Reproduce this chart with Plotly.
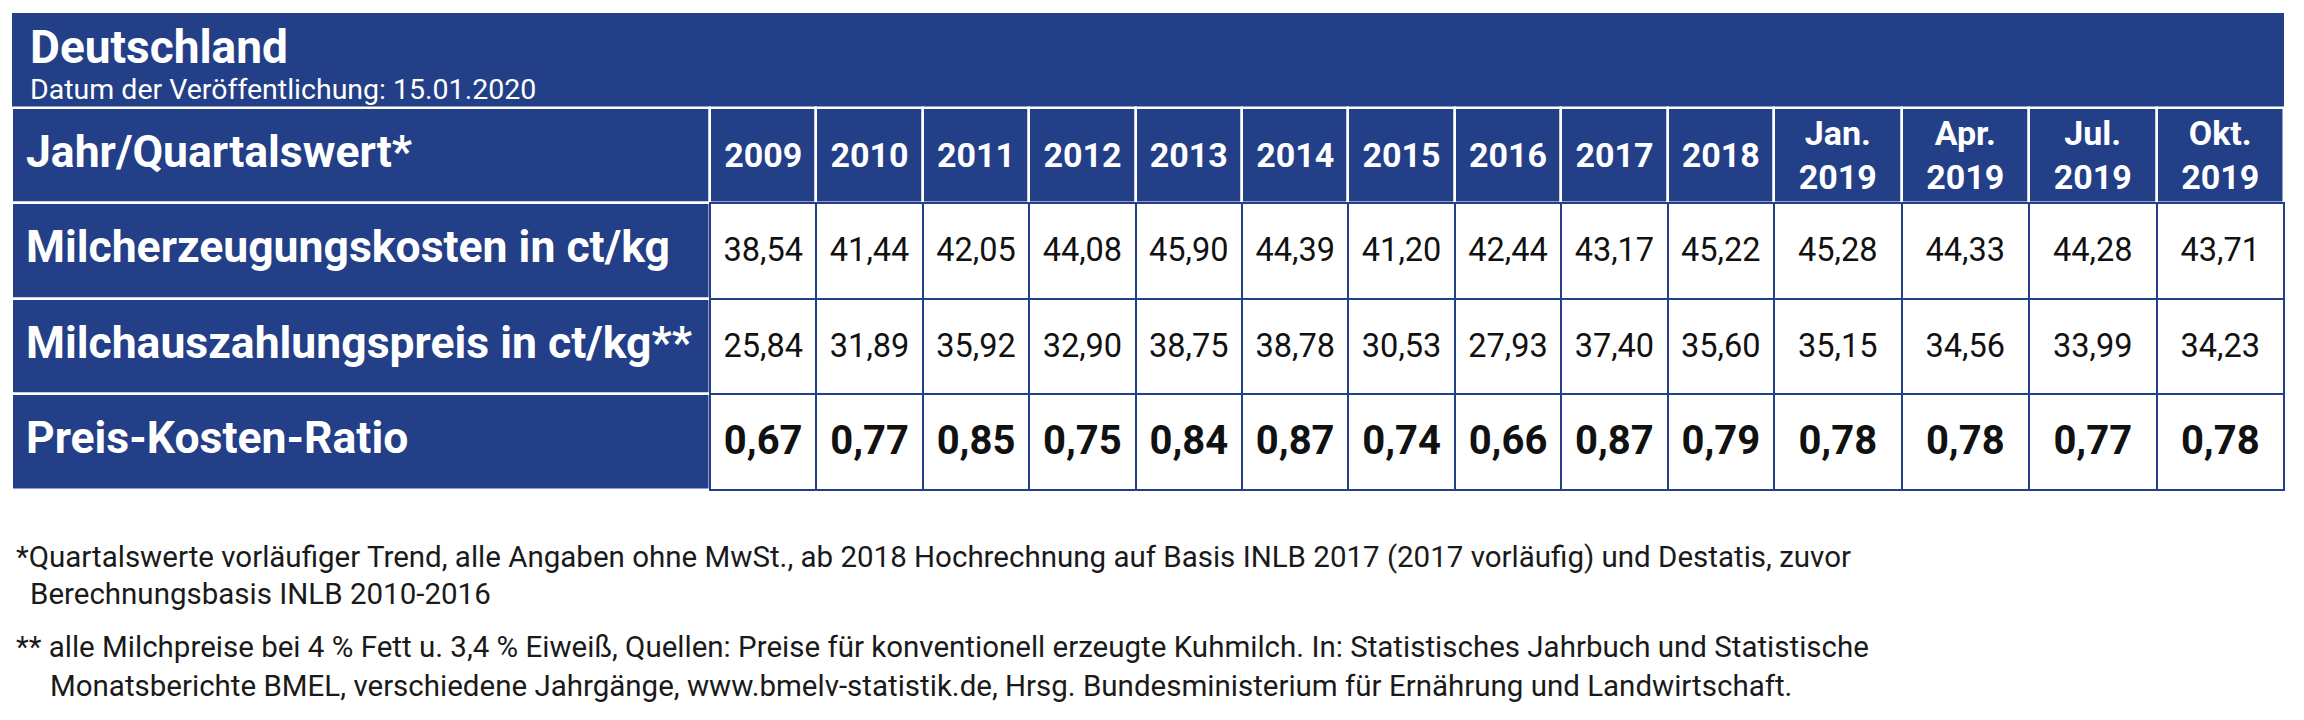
import numpy as np
import plotly.graph_objects as go

title = "Deutschland"
subtitle = "Datum der Veröffentlichung: 15.01.2020"
corner_label = "Jahr/Quartalswert*"
periods = ["2009", "2010", "2011", "2012", "2013", "2014", "2015", "2016", "2017", "2018",
           "Jan.<br>2019", "Apr.<br>2019", "Jul.<br>2019", "Okt.<br>2019"]
row_labels = ["Milcherzeugungskosten in ct/kg",
              "Milchauszahlungspreis in ct/kg**",
              "Preis-Kosten-Ratio"]
kosten = [38.54, 41.44, 42.05, 44.08, 45.90, 44.39, 41.20, 42.44, 43.17, 45.22, 45.28, 44.33, 44.28, 43.71]
preis = [25.84, 31.89, 35.92, 32.90, 38.75, 38.78, 30.53, 27.93, 37.40, 35.60, 35.15, 34.56, 33.99, 34.23]
ratio = [0.67, 0.77, 0.85, 0.75, 0.84, 0.87, 0.74, 0.66, 0.87, 0.79, 0.78, 0.78, 0.77, 0.78]
footnotes = [
    "*Quartalswerte vorläufiger Trend, alle Angaben ohne MwSt., ab 2018 Hochrechnung auf Basis INLB 2017 (2017 vorläufig) und Destatis, zuvor",
    "Berechnungsbasis INLB 2010-2016",
    "** alle Milchpreise bei 4 % Fett u. 3,4 % Eiweiß, Quellen: Preise für konventionell erzeugte Kuhmilch. In: Statistisches Jahrbuch und Statistische",
    "Monatsberichte BMEL, verschiedene Jahrgänge, www.bmelv-statistik.de, Hrsg. Bundesministerium für Ernährung und Landwirtschaft.",
]

# --- layout / style ---
PAGE_W, PAGE_H = 2304, 720
BODY = 8                     # default body margin of the html page
BLUE = "#233f87"
FONT = "Roboto"
X0, Y0 = 12, 13
FIRST_W, YEAR_W, QUARTER_W = 698, 106.4, 127.5
TITLE_H = 95
ROW_H = [95, 96, 95, 96]          # header row + three data rows
foot_x = [14, 28, 14, 48]
foot_y = [557, 594, 647, 686]

col_w = [FIRST_W] + [QUARTER_W if "<br>" in p else YEAR_W for p in periods]
x_edges = X0 + np.concatenate([[0], np.cumsum(col_w)])
x_mid = (x_edges[:-1] + x_edges[1:]) / 2
y_edges = Y0 + TITLE_H + np.concatenate([[0], np.cumsum(ROW_H)])
y_mid = (y_edges[:-1] + y_edges[1:]) / 2
n_cols = len(col_w)


def de(v):
    return f"{v:.2f}".replace(".", ",")


values = [[de(v) for v in kosten], [de(v) for v in preis], ["<b>" + de(v) + "</b>" for v in ratio]]

fig = go.Figure()

# title band
fig.add_trace(go.Bar(
    x=[(x_edges[0] + x_edges[-1]) / 2], width=[x_edges[-1] - x_edges[0]],
    base=[Y0], y=[TITLE_H], marker=dict(color=BLUE, line=dict(width=0)),
    hoverinfo="skip", showlegend=False))

# blue cells: header row and label column
bx, bw, bb, bh = [], [], [], []
for c in range(n_cols):
    bx.append(x_mid[c]); bw.append(col_w[c]); bb.append(y_edges[0]); bh.append(ROW_H[0])
for r in range(1, len(ROW_H)):
    bx.append(x_mid[0]); bw.append(col_w[0]); bb.append(y_edges[r]); bh.append(ROW_H[r])
fig.add_trace(go.Bar(
    x=bx, width=bw, base=bb, y=bh,
    marker=dict(color=BLUE, line=dict(color="white", width=2.5)),
    hoverinfo="skip", showlegend=False))

# white value cells
wx, ww, wb, wh = [], [], [], []
for r in range(1, len(ROW_H)):
    for c in range(1, n_cols):
        wx.append(x_mid[c]); ww.append(col_w[c]); wb.append(y_edges[r]); wh.append(ROW_H[r])
fig.add_trace(go.Bar(
    x=wx, width=ww, base=wb, y=wh,
    marker=dict(color="white", line=dict(color=BLUE, width=2)),
    hoverinfo="skip", showlegend=False))

# header texts
fig.add_trace(go.Scatter(
    x=list(x_mid[1:]), y=[y_mid[0] + 3] * len(periods), mode="text",
    text=["<b>" + p + "</b>" for p in periods], textposition="middle center",
    textfont=dict(family=FONT, size=34, color="white"),
    hoverinfo="skip", showlegend=False))

# row labels
fig.add_trace(go.Scatter(
    x=[X0 + 14] * 4, y=list(y_mid), mode="text",
    text=["<b>" + t + "</b>" for t in [corner_label] + row_labels], textposition="middle right",
    textfont=dict(family=FONT, size=44.5, color="white"),
    hoverinfo="skip", showlegend=False))

# values
vx, vy, vt, vs = [], [], [], []
for r, row in enumerate(values):
    for c, t in enumerate(row):
        vx.append(x_mid[c + 1]); vy.append(y_mid[r + 1] + 2); vt.append(t)
        vs.append(40 if r == 2 else 32.5)
fig.add_trace(go.Scatter(
    x=vx, y=vy, mode="text", text=vt, textposition="middle center",
    textfont=dict(family=FONT, size=vs, color="#111111"),
    hoverinfo="skip", showlegend=False))

annotations = [
    dict(x=X0 + 16, y=47, text="<b>" + title + "</b>", font=dict(family=FONT, size=46, color="white")),
    dict(x=X0 + 16, y=89, text=subtitle, font=dict(family=FONT, size=28.5, color="white")),
]
for t, fx, fy in zip(footnotes, foot_x, foot_y):
    annotations.append(dict(x=fx, y=fy, text=t, font=dict(family=FONT, size=29.5, color="#1a1a1a")))
for a in annotations:
    a.update(xref="x", yref="y", xanchor="left", yanchor="middle", showarrow=False)

# axes in page pixels; the figure sits inside the page's body margin
fig.update_layout(
    width=PAGE_W - 2 * BODY, height=PAGE_H - 2 * BODY,
    margin=dict(l=0, r=0, t=0, b=0),
    paper_bgcolor="white", plot_bgcolor="white",
    barmode="overlay", bargap=0,
    hovermode=False,
    annotations=annotations,
    xaxis=dict(range=[BODY, PAGE_W - BODY], visible=False, fixedrange=True),
    yaxis=dict(range=[PAGE_H - BODY, BODY], visible=False, fixedrange=True),
)

fig.write_html("out.html", config={"displayModeBar": False})
